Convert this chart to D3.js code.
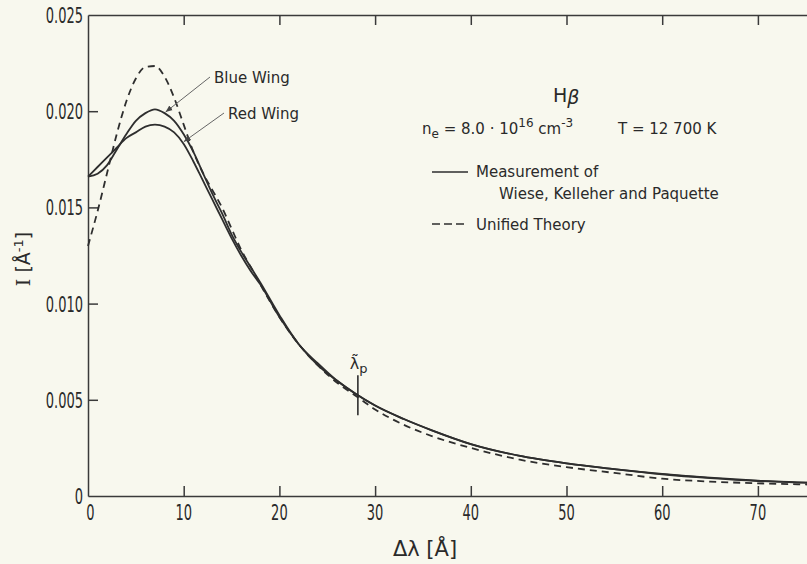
<!DOCTYPE html>
<html lang="en">
<head>
<meta charset="UTF-8">
<title>H-beta profile</title>
<script src="https://cdn.jsdelivr.net/npm/d3@7"></script>
<style>
  body { margin: 0; background: #f8f8ee; }
  svg { display: block; }
  .axis path, .axis line { stroke: #3a3a3a; stroke-width: 1.5px; }
  .lbl { font-family: "DejaVu Sans", sans-serif; fill: #2a2a2a; }
  .curve { fill: none; stroke: #2e2e2e; stroke-width: 1.8px; }
</style>
</head>
<body>
<div id="chart"></div>
<script>
// data (delta lambda in A, intensity in 1/A)
var dl = [0, 1, 2, 3, 4, 5, 6, 7, 8, 9, 10, 11, 12, 13, 14, 15, 16, 17, 18, 20, 22, 24, 26, 28, 30, 33, 36, 40, 45, 50, 55, 60, 65, 70, 75, 80];
var blueWing = [0.0166, 0.01675, 0.0172, 0.0180, 0.0188, 0.0195, 0.0199, 0.0201, 0.0199, 0.0195, 0.0188, 0.0179, 0.0168, 0.0157, 0.0147, 0.0136, 0.0127, 0.0119, 0.0111,
                0.0094, 0.0079, 0.0069, 0.0060, 0.0053, 0.0047, 0.0040, 0.0034, 0.0027, 0.0021, 0.0017, 0.0014, 0.00115, 0.00095, 0.0008, 0.0007, 0.00062];
var redWing = [0.0166, 0.0171, 0.0176, 0.0181, 0.0186, 0.0189, 0.0192, 0.0193, 0.0192, 0.0189, 0.0183, 0.0174, 0.0164, 0.0154, 0.0144, 0.0134, 0.0125, 0.0117, 0.0110,
               0.0093, 0.0079, 0.0068, 0.0060, 0.0053, 0.0047, 0.0040, 0.0034, 0.0027, 0.0021, 0.0017, 0.0014, 0.00113, 0.00093, 0.00078, 0.00069, 0.00061];
var unified = [0.0130, 0.0148, 0.0168, 0.0188, 0.0205, 0.0217, 0.0223, 0.02235, 0.0218, 0.0207, 0.0193, 0.0179, 0.0168, 0.0159, 0.0150, 0.0139, 0.0128, 0.0119, 0.0110,
               0.0093, 0.0079, 0.0068, 0.0059, 0.0052, 0.0045, 0.0037, 0.0031, 0.0025, 0.0019, 0.0015, 0.0012, 0.0009, 0.00075, 0.00066, 0.0006, 0.00055];

var xTicks = [0, 10, 20, 30, 40, 50, 60, 70];
var yTicks = [0, 0.005, 0.010, 0.015, 0.020, 0.025];
var yTickLabels = ["0", "0.005", "0.010", "0.015", "0.020", "0.025"];
var lambdaP = 28.2;

var width = 807, height = 564;
var padL = 88, padT = 15, padB = 496;

var x = d3.scaleLinear().domain([0, 80]).range([padL, padL + 8 * 95.7]);
var y = d3.scaleLinear().domain([0, 0.025]).range([padB, padT]);

var svg = d3.select("#chart").append("svg")
  .attr("width", width).attr("height", height);

svg.append("rect").attr("width", width).attr("height", height).attr("fill", "#f8f8ee");

// axes (ticks point inward)
var gx = svg.append("g").attr("class", "axis")
  .attr("transform", "translate(0," + padB + ")")
  .call(d3.axisBottom(x).tickValues(xTicks).tickSize(-10).tickSizeOuter(0).tickFormat(""));
gx.selectAll(".tick").filter(function(d){ return d === 0; }).select("line").remove();

svg.append("g").selectAll("text").data(xTicks).enter().append("text")
  .attr("class", "lbl")
  .attr("transform", function(d){ return "translate(" + x(d) + "," + (padB + 24) + ") scale(0.62,1)"; })
  .attr("text-anchor", function(d){ return d === 0 ? "start" : "middle"; })
  .attr("dx", function(d){ return d === 0 ? -3 : 0; })
  .attr("font-size", 21)
  .text(function(d){ return d; });

svg.append("g").attr("class", "axis")
  .attr("transform", "translate(0," + padT + ")")
  .call(d3.axisTop(x).tickValues(xTicks).tickSize(-10).tickSizeOuter(0).tickFormat(""))
  .selectAll(".tick").filter(function(d){ return d === 0; }).select("line").remove();

var gy = svg.append("g").attr("class", "axis")
  .attr("transform", "translate(" + padL + ",0)")
  .call(d3.axisLeft(y).tickValues(yTicks).tickSize(-10).tickSizeOuter(0).tickFormat(""));
gy.selectAll(".tick").filter(function(d){ return d === 0 || d === 0.025; }).select("line").remove();

svg.append("g").selectAll("text").data(yTicks).enter().append("text")
  .attr("class", "lbl")
  .attr("transform", function(d){ return "translate(" + (padL - 5) + "," + (y(d) + 8) + ") scale(0.62,1)"; })
  .attr("text-anchor", "end")
  .attr("font-size", 21)
  .text(function(d, i){ return yTickLabels[i]; });

// curves
function series(vals) {
  return dl.map(function(d, i){ return [d, vals[i]]; });
}
var line = d3.line()
  .x(function(d){ return x(d[0]); })
  .y(function(d){ return y(d[1]); })
  .curve(d3.curveMonotoneX);

svg.append("path").attr("class", "curve").attr("d", line(series(blueWing)));
svg.append("path").attr("class", "curve").attr("d", line(series(redWing)));
svg.append("path").attr("class", "curve").attr("stroke-dasharray", "7,5").attr("d", line(series(unified)));

// wing labels with arrows
svg.append("defs").append("marker")
  .attr("id", "arr").attr("viewBox", "0 0 10 10").attr("refX", 10).attr("refY", 5)
  .attr("markerWidth", 7).attr("markerHeight", 7).attr("orient", "auto")
  .append("path").attr("d", "M0,1 L10,5 L0,9 z").attr("fill", "#444");

var wings = [
  {name: "Blue Wing", at: 8.0, vals: blueWing, lx: 212, ly: 77},
  {name: "Red Wing", at: 9.9, vals: redWing, lx: 226, ly: 113}
];
wings.forEach(function(w){
  var v = d3.scaleLinear().domain(dl).range(w.vals)(w.at);
  svg.append("line")
    .attr("x1", w.lx - 2).attr("y1", w.ly)
    .attr("x2", x(w.at) + 1).attr("y2", y(v) - 1)
    .attr("stroke", "#666").attr("stroke-width", 1)
    .attr("marker-end", "url(#arr)");
  svg.append("text").attr("class", "lbl")
    .attr("x", w.lx + 2).attr("y", w.ly + 6)
    .attr("font-size", 15)
    .text(w.name);
});

// lambda_p marker
var vp = d3.scaleLinear().domain(dl).range(blueWing)(lambdaP);
svg.append("line")
  .attr("x1", x(lambdaP)).attr("x2", x(lambdaP))
  .attr("y1", y(vp) - 20).attr("y2", y(vp) + 20)
  .attr("stroke", "#2e2e2e").attr("stroke-width", 1.6);
svg.append("text").attr("class", "lbl")
  .attr("x", x(lambdaP) - 8).attr("y", y(vp) - 26).attr("font-size", 16)
  .text("λ\u0303").append("tspan").attr("dy", 4).attr("font-size", 13).text("p");

// legend block
svg.append("text").attr("class", "lbl").attr("x", 553).attr("y", 102).attr("font-size", 19)
  .text("H").append("tspan").attr("font-style", "italic").attr("dy", 2).text("β");

var ne = svg.append("text").attr("class", "lbl").attr("x", 422).attr("y", 134).attr("font-size", 15);
ne.append("tspan").text("n");
ne.append("tspan").attr("dy", 4).attr("font-size", 12).text("e");
ne.append("tspan").attr("dy", -4).text(" = 8.0 · 10");
ne.append("tspan").attr("dy", -7).attr("font-size", 12).text("16");
ne.append("tspan").attr("dy", 7).text(" cm");
ne.append("tspan").attr("dy", -7).attr("font-size", 12).text("-3");

svg.append("text").attr("class", "lbl").attr("x", 618).attr("y", 134).attr("font-size", 15)
  .text("T = 12 700  K");

svg.append("line").attr("x1", 432).attr("x2", 468).attr("y1", 172).attr("y2", 172)
  .attr("stroke", "#2e2e2e").attr("stroke-width", 1.5);
svg.append("text").attr("class", "lbl").attr("x", 476).attr("y", 177).attr("font-size", 15)
  .text("Measurement of");
svg.append("text").attr("class", "lbl").attr("x", 499).attr("y", 199).attr("font-size", 15)
  .text("Wiese, Kelleher and Paquette");
svg.append("line").attr("x1", 432).attr("x2", 468).attr("y1", 224).attr("y2", 224)
  .attr("stroke", "#2e2e2e").attr("stroke-width", 1.5).attr("stroke-dasharray", "8,4");
svg.append("text").attr("class", "lbl").attr("x", 476).attr("y", 230).attr("font-size", 15)
  .text("Unified Theory");

// axis titles
svg.append("text").attr("class", "lbl").attr("x", 425).attr("y", 556).attr("font-size", 21)
  .attr("text-anchor", "middle").text("Δλ [Å]");

var yt = svg.append("text").attr("class", "lbl")
  .attr("transform", "translate(30,259) rotate(-90)")
  .attr("text-anchor", "middle").attr("font-size", 19);
yt.append("tspan").attr("font-family", "DejaVu Serif").text("I");
yt.append("tspan").text(" [Å");
yt.append("tspan").attr("dy", -7).attr("font-size", 13).text("-1");
yt.append("tspan").attr("dy", 7).text("]");
</script>
</body>
</html>
